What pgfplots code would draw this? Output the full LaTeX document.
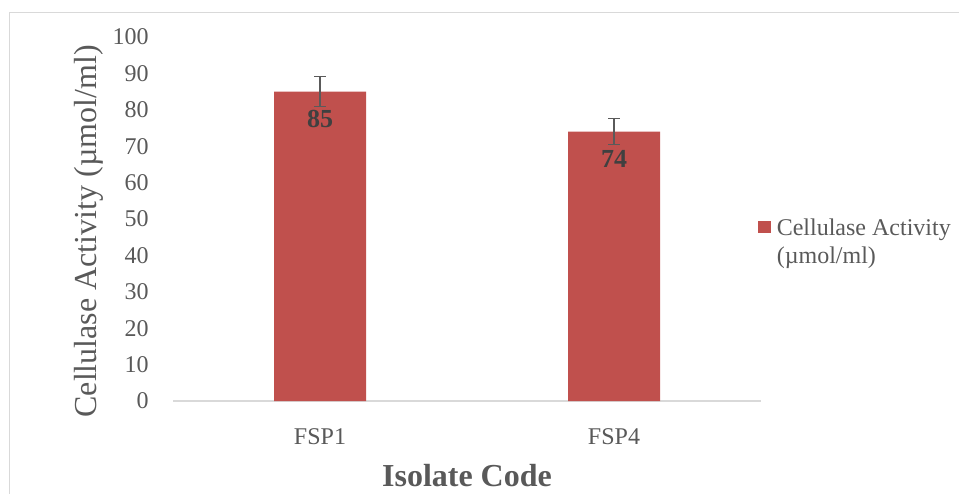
\documentclass[border=0pt]{standalone}
\usepackage{pgfplots}
\pgfplotsset{compat=1.18}
\usepackage{fontspec}
\setmainfont{Liberation Serif}
\definecolor{barred}{HTML}{C0504D}
\definecolor{tickgray}{HTML}{595959}
\definecolor{labgray}{HTML}{404040}
\definecolor{framegray}{HTML}{D9D9D9}
\definecolor{errgray}{HTML}{5A5A5A}
\begin{document}
\begin{tikzpicture}
\useasboundingbox (0,0) rectangle (719.25pt,-369.75pt);
\draw[framegray, line width=1pt] (7.1pt,-372pt) -- (7.1pt,-9.5pt) -- (722pt,-9.5pt);
\begin{axis}[
  at={(129.75pt,-300.75pt)}, anchor=south west,
  scale only axis, width=441pt, height=273pt,
  xmin=-0.5, xmax=1.5, ymin=0, ymax=100,
  ybar, bar width=69pt,
  clip=false,
  axis x line*=bottom, axis y line*=left,
  x axis line style={draw=framegray, line width=1.5pt},
  y axis line style={draw=none},
  xtick={0,1}, xticklabels={FSP1,FSP4},
  ytick={0,10,...,100},
  tick style={draw=none},
  /pgf/number format/assume math mode=true,
  ticklabel style={font=\fontsize{18}{18}\selectfont, text=tickgray},
  yticklabel style={anchor=east, inner sep=0pt, xshift=-18pt},
  xticklabel style={anchor=north, inner sep=0pt, yshift=-16.5pt},
  every axis y label/.style={at={(axis description cs:-0.143,0.466)}, rotate=90, anchor=center, inner sep=0pt, font=\fontsize{24}{24}\selectfont, text=tickgray},
  every axis x label/.style={at={(axis description cs:0.5,0)}, anchor=north, inner sep=0pt, yshift=-46.9pt, font=\bfseries\fontsize{24}{24}\selectfont, text=tickgray},
  ylabel={Cellulase Activity (µmol/ml)},
  xlabel={Isolate Code},
  nodes near coords,
  nodes near coords style={anchor=north, inner sep=0pt, yshift=-13.9pt, font=\bfseries\fontsize{19.5}{19.5}\selectfont, text=labgray},
  legend style={at={(axis description cs:0.9949,0.508)}, anchor=north west, draw=none, fill=none, inner sep=0pt, font=\fontsize{18}{21}\selectfont, text=tickgray, nodes={inner sep=0pt}, column sep=4.5pt},
  legend cell align=left,
  legend image code/.code={\fill[barred] (0pt,-4.7pt) rectangle (9.4pt,4.7pt);},
]
\addplot[fill=barred, draw=none,
  error bars/.cd, y dir=both, y explicit,
  error bar style={line width=1.1pt, color=errgray},
  error mark options={rotate=90, line width=1.1pt, color=errgray, mark size=4.4pt}]
  coordinates {(0,85) +- (0,4.1) (1,74) +- (0,3.6)};
\addlegendentry{\begin{tabular}[t]{@{}l@{}}Cellulase Activity\\(µmol/ml)\end{tabular}}
\end{axis}
\end{tikzpicture}
\end{document}
